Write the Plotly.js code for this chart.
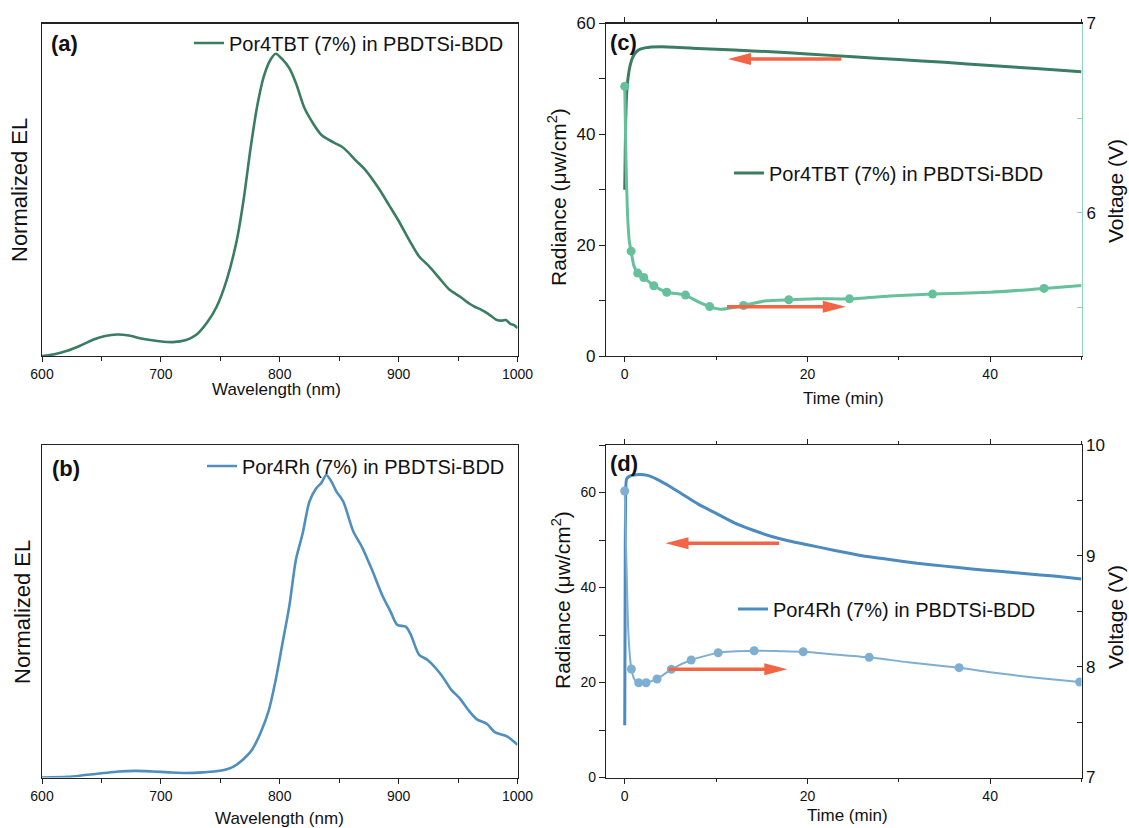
<!DOCTYPE html>
<html>
<head>
<meta charset="utf-8">
<script src="https://cdn.plot.ly/plotly-3.0.1.min.js"></script>
<style>html,body{margin:0;padding:0;background:#fff;}#chart{width:1129px;height:828px;}</style>
</head>
<body>
<div id="chart"></div>
<script>
// ---------- DATA ----------
const wlA = [600,610.5,621.9,633.2,644.6,653.1,663,673,684.4,698.6,710,721.3,729.8,738.4,746.9,755.4,763.9,769.6,775.3,781,786.6,792.3,796.6,802.3,807.9,813.6,820.7,827.8,834.9,840,846.3,852,857,863.4,871.9,883.2,891.8,900.3,908.8,917.3,925.9,934.4,942.9,951.4,960,964,968.5,974.8,982.7,987,990.3,994,996.8,1000];
const elA = [0,0.006,0.018,0.036,0.056,0.066,0.071,0.068,0.057,0.049,0.046,0.053,0.070,0.108,0.163,0.252,0.384,0.517,0.683,0.826,0.925,0.981,1.0,0.981,0.953,0.903,0.821,0.771,0.732,0.718,0.704,0.693,0.676,0.649,0.616,0.555,0.500,0.445,0.384,0.329,0.296,0.257,0.219,0.197,0.172,0.163,0.155,0.141,0.119,0.117,0.119,0.106,0.103,0.092];

const wlB = [600,621.9,636,650.3,664.5,678.7,692.9,707.1,721.3,735.5,749.7,761.1,769.6,776.7,783.8,790.9,796.6,802.3,808,813.6,819.3,825,830.7,834.9,839.2,843.5,847.7,853.4,861.9,869,877.6,886.1,893.2,898.9,906,910.3,917.3,924.4,935.8,944.3,951.4,958.5,965.6,974.1,981.2,991.2,1000];
const elB = [0,0.002,0.008,0.014,0.020,0.022,0.020,0.017,0.015,0.017,0.022,0.036,0.061,0.092,0.147,0.224,0.323,0.444,0.566,0.720,0.808,0.913,0.957,0.974,1.001,0.979,0.946,0.913,0.814,0.764,0.687,0.604,0.549,0.505,0.499,0.472,0.406,0.389,0.340,0.290,0.262,0.224,0.193,0.178,0.149,0.136,0.108];

// (c) Por4TBT radiance vs time
const timeC = [0,0.1,0.2,0.35,0.6,1.0,1.5,2.2,4,8,12,16,20,25,30,35,40,45,50];
const radC  = [30,42,47,50,52.5,54.3,55.2,55.6,55.8,55.5,55.2,54.9,54.5,54.0,53.5,53.0,52.4,51.9,51.3];
// (c) voltage curve
const timeCV = [0,0.15,0.3,0.5,0.7,1.0,1.42,2.08,3.18,4.6,6.65,8,9.3,10.5,13.0,15.5,17.96,21,24.6,29,33.7,40,45.9,50];
const voltC  = [6.668,6.25,6.0,5.85,5.797,5.72,5.681,5.658,5.614,5.58,5.565,5.53,5.504,5.49,5.51,5.535,5.54,5.545,5.545,5.56,5.57,5.58,5.60,5.616];
// (c) voltage markers
const timeCM = [0,0.7,1.42,2.08,3.18,4.6,6.65,9.3,13.0,17.96,24.6,33.7,45.9];
const voltCM = [6.668,5.797,5.681,5.658,5.614,5.58,5.565,5.504,5.51,5.54,5.545,5.57,5.60];

// (d) Por4Rh radiance vs time
const timeD = [0,0.05,0.1,0.2,0.5,1,1.6,2.5,3.5,5,6.5,8,10,12,14,16,18,20,23,26,29,32,35,38,41,44,47,50];
const radD  = [11,40,60,62.8,63.4,63.7,63.8,63.6,62.8,61.2,59.4,57.6,55.6,53.6,52.1,50.8,49.8,49.0,47.8,46.7,45.9,45.1,44.5,43.9,43.4,42.9,42.4,41.8];
// (d) voltage curve
const timeDV = [0,0.2,0.4,0.73,1.1,1.53,2.34,3.54,5.1,7.27,10.23,14.17,17,19.54,23,26.76,31,36.6,40,45,49.8];
const voltD  = [9.585,8.9,8.3,7.979,7.88,7.855,7.855,7.889,7.976,8.06,8.126,8.144,8.14,8.135,8.11,8.084,8.04,7.991,7.95,7.90,7.862];
// (d) voltage markers
const timeDM = [0,0.73,1.53,2.34,3.54,5.1,7.27,10.23,14.17,19.54,26.76,36.6,49.8];
const voltDM = [9.585,7.979,7.855,7.855,7.889,7.976,8.06,8.126,8.144,8.135,8.084,7.991,7.862];

const nameA = 'Por4TBT (7%) in PBDTSi-BDD';
const nameB = 'Por4Rh (7%) in PBDTSi-BDD';

// ---------- STYLE ----------
const W = 1129, H = 828;
const FONT = 'Arial, "Liberation Sans", sans-serif';
const cGreen = '#3a7d63', cGreenL = '#66c09c', cGreenAxis = '#8fd3b8';
const cBlue = '#4e8fbe', cBlueD = '#4b8bbf', cBlueL = '#7eafd3';
const cArrow = '#f26444';
const px = v => v / W;
const py = v => 1 - v / H;

const xDomL = [px(42), px(517.5)];
const xDomR = [px(606), px(1081.5)];
const yDomT = [py(356), py(23.5)];
const yDomB = [py(777.5), py(445)];

const baseAx = {showline: true, linecolor: '#222', linewidth: 1.2, showgrid: false, zeroline: false,
  tickcolor: '#222', tickfont: {family: FONT, color: '#111', size: 14}};

const traces = [
  {x: wlA, y: elA, xaxis: 'x', yaxis: 'y', mode: 'lines', name: nameA,
   line: {color: cGreen, width: 2.6, shape: 'spline', smoothing: 0.8}, legend: 'legend'},
  {x: wlB, y: elB, xaxis: 'x2', yaxis: 'y2', mode: 'lines', name: nameB,
   line: {color: cBlue, width: 2.6, shape: 'spline', smoothing: 0.8}, legend: 'legend2'},
  {x: timeCV, y: voltC, xaxis: 'x3', yaxis: 'y4', mode: 'lines', showlegend: false,
   line: {color: cGreenL, width: 3, shape: 'spline', smoothing: 0.5}},
  {x: timeCM, y: voltCM, xaxis: 'x3', yaxis: 'y4', mode: 'markers', showlegend: false,
   marker: {color: cGreenL, size: 9}},
  {x: timeC, y: radC, xaxis: 'x3', yaxis: 'y3', mode: 'lines', name: nameA,
   line: {color: cGreen, width: 3, shape: 'spline', smoothing: 0.5}, legend: 'legend3'},
  {x: timeDV, y: voltD, xaxis: 'x4', yaxis: 'y6', mode: 'lines', showlegend: false,
   line: {color: cBlueL, width: 2, shape: 'spline', smoothing: 0.5}},
  {x: timeDM, y: voltDM, xaxis: 'x4', yaxis: 'y6', mode: 'markers', showlegend: false,
   marker: {color: cBlueL, size: 9}},
  {x: timeD, y: radD, xaxis: 'x4', yaxis: 'y5', mode: 'lines', name: nameB,
   line: {color: cBlueD, width: 3, shape: 'spline', smoothing: 0.5}, legend: 'legend4'}
];

// arrows: [xref, yref, tail x, tip x, y]
const arrows = [
  ['x3','y3',23.7,11.3,53.6],
  ['x3','y3',11.2,24.2,8.9],
  ['x4','y5',16.9,4.46,49.3],
  ['x4','y5',4.8,17.8,22.8]
];
const shapes = [];
arrows.forEach(a => {
  const dir = a[3] > a[2] ? 1 : -1;
  shapes.push({type: 'line', xref: a[0], yref: a[1], x0: a[2], x1: a[3] - dir * 1.6, y0: a[4], y1: a[4],
    line: {color: cArrow, width: 3.5}});
  shapes.push({type: 'path', xref: a[0], yref: a[1], xsizemode: 'pixel', ysizemode: 'pixel',
    xanchor: a[3], yanchor: a[4], path: dir > 0 ? 'M0,0L-23,6L-23,-6Z' : 'M0,0L23,6L23,-6Z',
    fillcolor: cArrow, line: {width: 0}});
});

function ann(text, x, y, size, opts) {
  return Object.assign({text: text, xref: 'paper', yref: 'paper', x: px(x), y: py(y),
    xanchor: 'center', yanchor: 'middle', showarrow: false,
    font: {family: FONT, size: size, color: '#111'}}, opts || {});
}

const annotations = [
  ann('<b>(a)</b>', 49, 43.5, 22, {xanchor: 'left'}),
  ann('<b>(b)</b>', 50, 469, 22, {xanchor: 'left'}),
  ann('<b>(c)</b>', 608, 42, 22, {xanchor: 'left'}),
  ann('<b>(d)</b>', 608, 463, 22, {xanchor: 'left'}),
  ann('Normalized EL', 19, 190, 22, {textangle: -90}),
  ann('Normalized EL', 22, 612, 22, {textangle: -90}),
  ann('Wavelength (nm)', 276, 389, 17),
  ann('Wavelength (nm)', 279, 818, 17),
  ann('Time (min)', 843, 398, 17),
  ann('Time (min)', 847, 815, 17),
  ann('Radiance (μw/cm<sup>2</sup>)', 557, 197, 21, {textangle: -90}),
  ann('Radiance (μw/cm<sup>2</sup>)', 561, 600, 21, {textangle: -90}),
  ann('Voltage (V)', 1115, 191, 21, {textangle: -90}),
  ann('Voltage (V)', 1115, 617, 21, {textangle: -90})
];

function leg(x, y) {
  return {x: px(x), y: py(y), xanchor: 'left', yanchor: 'middle', bgcolor: 'rgba(0,0,0,0)',
    borderwidth: 0, font: {family: FONT, size: 20, color: '#111'}};
}

const layout = {
  width: W, height: H, margin: {l: 0, r: 0, t: 0, b: 0},
  paper_bgcolor: '#fff', plot_bgcolor: '#fff',
  font: {family: FONT, color: '#111'},
  xaxis: Object.assign({}, baseAx, {domain: xDomL, anchor: 'y', range: [600, 1000], dtick: 100, tick0: 600,
    ticks: 'outside', ticklen: 5, mirror: true,
    minor: {dtick: 50, ticks: 'outside', ticklen: 4, tickcolor: '#222'}}),
  yaxis: Object.assign({}, baseAx, {domain: yDomT, anchor: 'x', range: [0, 1.1], showticklabels: false, ticks: '', mirror: true}),
  xaxis2: Object.assign({}, baseAx, {domain: xDomL, anchor: 'y2', range: [600, 1000], dtick: 100, tick0: 600,
    ticks: 'outside', ticklen: 5, mirror: true,
    minor: {dtick: 50, ticks: 'outside', ticklen: 4, tickcolor: '#222'}}),
  yaxis2: Object.assign({}, baseAx, {domain: yDomB, anchor: 'x2', range: [0, 1.1], showticklabels: false, ticks: '', mirror: true}),
  xaxis3: Object.assign({}, baseAx, {domain: xDomR, anchor: 'y3', range: [-2.05, 50], dtick: 20, tick0: 0,
    ticks: 'outside', ticklen: 5, mirror: 'ticks',
    minor: {dtick: 10, ticks: 'outside', ticklen: 3, tickcolor: '#222'}}),
  yaxis3: Object.assign({}, baseAx, {domain: yDomT, anchor: 'x3', range: [0, 60], dtick: 20, tick0: 0,
    ticks: 'outside', ticklen: 6, tickfont: {family: FONT, size: 17, color: '#111'},
    minor: {dtick: 10, ticks: 'outside', ticklen: 6, tickcolor: '#222'}}),
  yaxis4: Object.assign({}, baseAx, {overlaying: 'y3', side: 'right', anchor: 'x3', range: [5.243, 7], dtick: 1, tick0: 7,
    linecolor: cGreenAxis, linewidth: 1.5, tickcolor: cGreenAxis, ticks: 'inside', ticklen: 5,
    tickfont: {family: FONT, size: 17, color: '#111'},
    minor: {dtick: 0.5, ticks: 'inside', ticklen: 5, tickcolor: cGreenAxis}}),
  xaxis4: Object.assign({}, baseAx, {domain: xDomR, anchor: 'y5', range: [-2.05, 50], dtick: 20, tick0: 0,
    ticks: 'outside', ticklen: 5, mirror: 'ticks',
    minor: {dtick: 10, ticks: 'outside', ticklen: 3, tickcolor: '#222'}}),
  yaxis5: Object.assign({}, baseAx, {domain: yDomB, anchor: 'x4', range: [0, 70], dtick: 20, tick0: 0,
    ticks: 'outside', ticklen: 6, tickfont: {family: FONT, size: 14, color: '#111'},
    minor: {dtick: 10, ticks: 'outside', ticklen: 6, tickcolor: '#222'}}),
  yaxis6: Object.assign({}, baseAx, {overlaying: 'y5', side: 'right', anchor: 'x4', range: [7, 10], dtick: 1, tick0: 7,
    ticks: 'inside', ticklen: 5, tickfont: {family: FONT, size: 17, color: '#111'},
    minor: {dtick: 0.5, ticks: 'inside', ticklen: 5, tickcolor: '#222'}}),
  legend: leg(189, 43),
  legend2: leg(202, 466),
  legend3: leg(729, 173),
  legend4: leg(733, 609),
  shapes: shapes,
  annotations: annotations
};

Plotly.newPlot('chart', traces, layout, {displayModeBar: false, staticPlot: true});
</script>
</body>
</html>
